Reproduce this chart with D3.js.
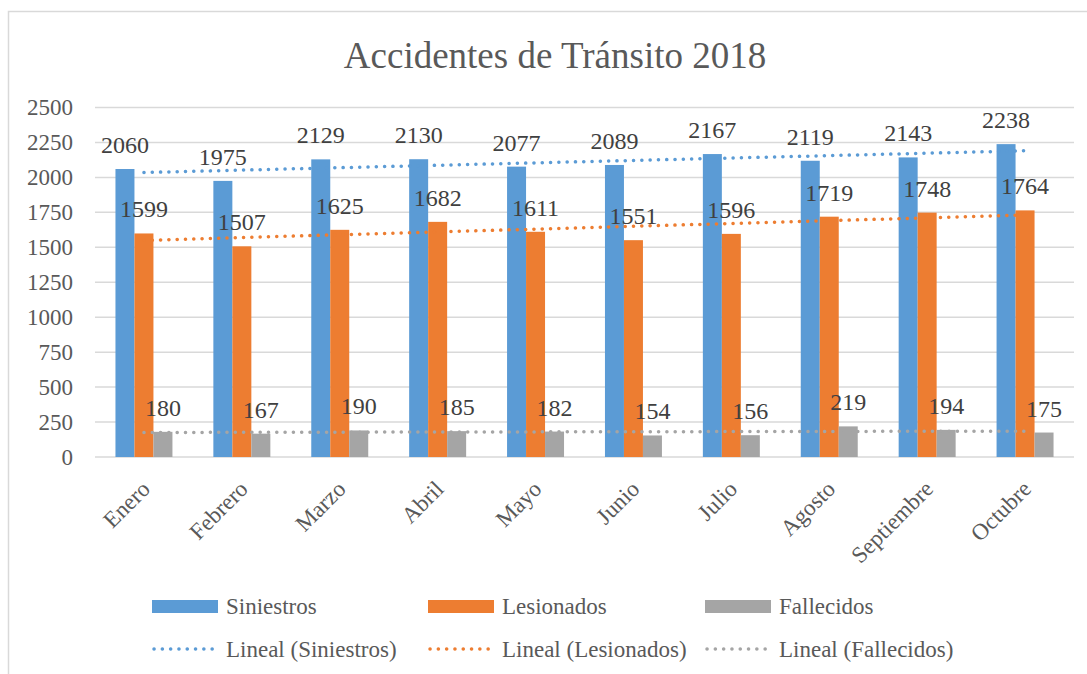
<!DOCTYPE html>
<html>
<head>
<meta charset="utf-8">
<script src="https://cdn.jsdelivr.net/npm/d3@7"></script>
<style>
	body { margin: 0; background: #fff; }
	text { font-family: "Liberation Serif", "Times New Roman", serif; }
</style>
</head>
<body>
<script>
const months = ["Enero", "Febrero", "Marzo", "Abril", "Mayo", "Junio", "Julio", "Agosto", "Septiembre", "Octubre"];
const siniestros = [2060, 1975, 2129, 2130, 2077, 2089, 2167, 2119, 2143, 2238];
const lesionados = [1599, 1507, 1625, 1682, 1611, 1551, 1596, 1719, 1748, 1764];
const fallecidos = [180, 167, 190, 185, 182, 154, 156, 219, 194, 175];
const yTicks = [0, 250, 500, 750, 1000, 1250, 1500, 1750, 2000, 2250, 2500];
const seriesNames = ["Siniestros", "Lesionados", "Fallecidos"];
const colors = ["#5b9bd5", "#ed7d31", "#a5a5a5"];

const series = [siniestros, lesionados, fallecidos].map((vals, i) => ({name: seriesNames[i], color: colors[i], values: vals}));

var width = 1087, height = 674;
var svg = d3.select("body").append("svg")
	.attr("width", width)
	.attr("height", height)
	.attr("font-family", "'Liberation Serif', 'Times New Roman', serif");

// chart area border
svg.append("rect")
	.attr("x", 8.5).attr("y", 11.5)
	.attr("width", 1100).attr("height", 700)
	.attr("fill", "none")
	.attr("stroke", "#d9d9d9")
	.attr("stroke-width", 1.5);

svg.append("text")
	.attr("x", 555).attr("y", 68)
	.attr("text-anchor", "middle")
	.attr("font-size", 37)
	.attr("fill", "#595959")
	.text("Accidentes de Tránsito 2018");

var plot = {left: 95, right: 1074, top: 107.5, bottom: 457};

var x0 = d3.scaleBand()
	.domain(months)
	.range([plot.left, plot.right])
	.paddingInner(0.418)
	.paddingOuter(0.209);
var x1 = d3.scaleBand()
	.domain(seriesNames)
	.range([0, x0.bandwidth()]);
var y = d3.scaleLinear()
	.domain([0, 2500])
	.range([plot.bottom, plot.top]);

// gridlines
svg.append("g")
	.selectAll("line")
	.data(yTicks)
	.enter().append("line")
		.attr("x1", plot.left).attr("x2", plot.right)
		.attr("y1", d => y(d)).attr("y2", d => y(d))
		.attr("stroke", "#d9d9d9")
		.attr("stroke-width", 1.5);

// y axis labels
svg.append("g")
	.selectAll("text")
	.data(yTicks)
	.enter().append("text")
		.attr("x", 73)
		.attr("y", d => y(d))
		.attr("dy", "0.34em")
		.attr("text-anchor", "end")
		.attr("font-size", 23)
		.attr("fill", "#595959")
		.text(d => d);

// bars
var groups = svg.append("g")
	.selectAll("g")
	.data(series)
	.enter().append("g")
		.attr("fill", d => d.color);

groups.selectAll("rect")
	.data(d => d.values.map((v, i) => ({name: d.name, month: months[i], value: v})))
	.enter().append("rect")
		.attr("x", d => x0(d.month) + x1(d.name))
		.attr("width", x1.bandwidth())
		.attr("y", d => y(d.value))
		.attr("height", d => y(0) - y(d.value));

// trend lines (least squares fit)
function fit(vals) {
	var n = vals.length;
	var xs = d3.range(n);
	var mx = d3.mean(xs), my = d3.mean(vals);
	var num = d3.sum(xs, (xi, i) => (xi - mx) * (vals[i] - my));
	var den = d3.sum(xs, xi => (xi - mx) * (xi - mx));
	var b = num / den, a = my - b * mx;
	return [0, n - 1].map(i => [i, a + b * i]);
}
var xc = i => x0(months[i]) + x0.bandwidth() / 2;
series.forEach(s => {
	svg.append("path")
		.datum(fit(s.values))
		.attr("d", d3.line().x(d => xc(d[0])).y(d => y(d[1])))
		.attr("fill", "none")
		.attr("stroke", s.color)
		.attr("stroke-width", 3.5)
		.attr("stroke-linecap", "round")
		.attr("stroke-dasharray", "0.1 8.2");
});

// data labels
groups.selectAll("text")
	.data(d => d.values.map((v, i) => ({name: d.name, month: months[i], value: v})))
	.enter().append("text")
		.attr("x", d => x0(d.month) + x1(d.name) + x1.bandwidth() / 2)
		.attr("y", d => y(d.value) - 16)
		.attr("text-anchor", "middle")
		.attr("font-size", 24)
		.attr("fill", "#404040")
		.text(d => d.value);

// x axis labels
svg.append("g")
	.selectAll("text")
	.data(months)
	.enter().append("text")
		.attr("transform", d => "translate(" + (x0(d) + x0.bandwidth() / 2 - 4) + ",479) rotate(-45)")
		.attr("text-anchor", "end")
		.attr("dy", "0.7em")
		.attr("font-size", 23)
		.attr("fill", "#595959")
		.text(d => d);

// legend
var legX = [152, 428, 705];
var leg = svg.append("g");
series.forEach((s, i) => {
	leg.append("rect")
		.attr("x", legX[i]).attr("y", 600)
		.attr("width", 66).attr("height", 13)
		.attr("fill", s.color);
	leg.append("text")
		.attr("x", legX[i] + 74).attr("y", 614)
		.attr("font-size", 23)
		.attr("fill", "#595959")
		.text(s.name);
	leg.append("line")
		.attr("x1", legX[i] + 2).attr("x2", legX[i] + 66)
		.attr("y1", 649).attr("y2", 649)
		.attr("stroke", s.color)
		.attr("stroke-width", 3.5)
		.attr("stroke-linecap", "round")
		.attr("stroke-dasharray", "0.1 8.2");
	leg.append("text")
		.attr("x", legX[i] + 74).attr("y", 657)
		.attr("font-size", 23)
		.attr("fill", "#595959")
		.text("Lineal (" + s.name + ")");
});
</script>
</body>
</html>
